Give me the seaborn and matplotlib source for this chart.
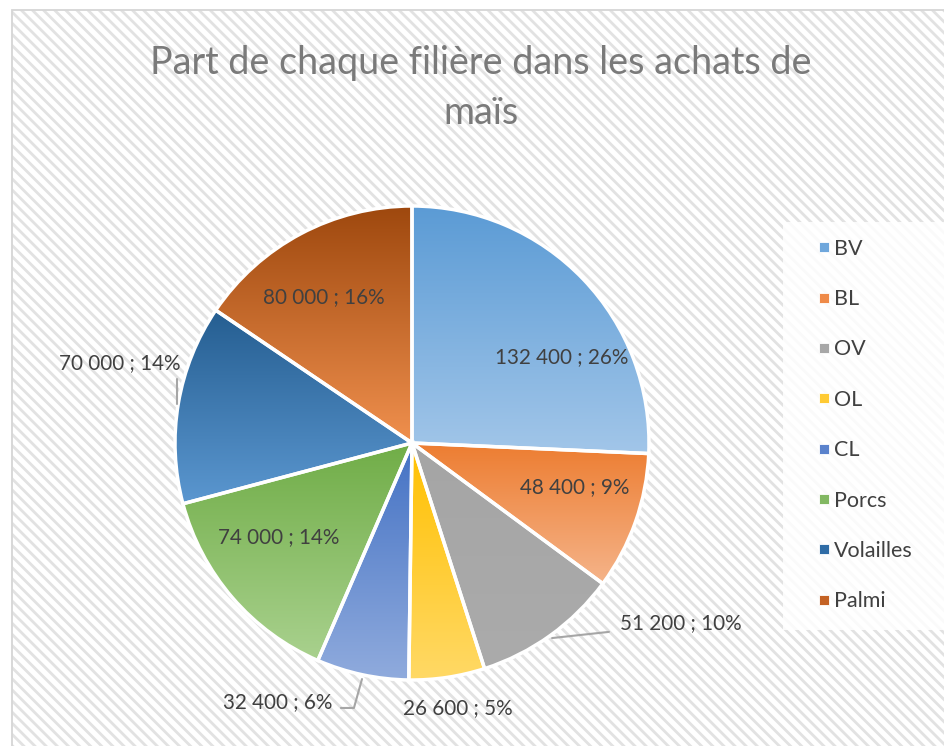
import numpy as np
import matplotlib.pyplot as plt
import seaborn as sns
from matplotlib.patches import Rectangle
from matplotlib.lines import Line2D

# data
categories = ["BV", "BL", "OV", "OL", "CL", "Porcs", "Volailles", "Palmi"]
values = [132400, 48400, 51200, 26600, 32400, 74000, 70000, 80000]

# gradient colours (top of slice -> bottom of slice)
top_colors = ["#5B9BD5", "#ED7D31", "#A5A5A5", "#FFC000", "#4472C4", "#70AD47", "#255E91", "#9E480E"]
bottom_colors = ["#A2C6E9", "#F5B48A", "#ABABAB", "#FFD966", "#90ABDD", "#A9D18E", "#5B97D0", "#F0904E"]
legend_colors = ["#6FA7DC", "#EF8A48", "#A7A7A7", "#FFCA33", "#5A82CC", "#82B862", "#2F6CA6", "#C46224"]

# label placement (in pie-radius units from the centre)
label_pos = [(0.633, 0.363), (0.688, -0.186), (1.135, -0.759), (0.192, -1.118),
             (-0.568, -1.093), (-0.563, -0.397), (-1.232, 0.338), (-0.371, 0.616)]
leaders = {
    "OV": [(0.591, -0.823), (0.831, -0.797)],
    "CL": [(-0.211, -0.996), (-0.245, -1.118), (-0.300, -1.118)],
    "Volailles": [(-0.992, 0.270), (-0.992, 0.165)],
}

sns.set_theme(style="white")
plt.rcParams["font.family"] = ["Lato", "DejaVu Sans"]
plt.rcParams["hatch.linewidth"] = 2.0

W, H = 944, 746
fig = plt.figure(figsize=(W / 100, H / 100), dpi=100)
fig.patch.set_facecolor("white")
ax = fig.add_axes([0, 0, 1, 1])

# hatched chart area + border
ax.add_patch(Rectangle((12, -20), W + 20, H - 10 + 20, facecolor="white",
                       edgecolor="#E2E2E2", hatch="\\\\\\", linewidth=0, zorder=0))
ax.add_patch(Rectangle((12, -20), W + 20, H - 10 + 20, fill=False,
                       edgecolor="#D6D6D6", linewidth=1.3, zorder=0.5))

cx, cy, R = 412, H - 443, 237
wedges, _ = ax.pie(values, colors=top_colors, startangle=90, counterclock=False,
                   center=(cx, cy), radius=R,
                   wedgeprops=dict(edgecolor="white", linewidth=2.5))

grad = np.linspace(0, 1, 256).reshape(-1, 1)
for w, c0, c1 in zip(wedges, top_colors, bottom_colors):
    ext = w.get_path().get_extents()
    cmap = sns.blend_palette([c0, c1], as_cmap=True)
    im = ax.imshow(grad, cmap=cmap, origin="upper", aspect="auto",
                   extent=(ext.x0, ext.x1, ext.y0, ext.y1), zorder=1)
    im.set_clip_path(w)
    w.set_facecolor("none")
    w.set_zorder(2)

total = sum(values)
for name, v, (dx, dy) in zip(categories, values, label_pos):
    txt = f"{v:,}".replace(",", " ") + f" ; {round(v / total * 100)}%"
    ax.text(cx + dx * R, cy + dy * R, txt, ha="center", va="center",
            fontsize=14.9, color="#404040", zorder=4)

for name, pts in leaders.items():
    xs = [cx + p[0] * R for p in pts]
    ys = [cy + p[1] * R for p in pts]
    ax.plot(xs, ys, color="#A6A6A6", linewidth=1.5, zorder=3)

# title
ax.text(481, H - 88, "Part de chaque filière dans les achats de\nmaïs",
        ha="center", va="center", fontsize=27.2, color="#7A7A7A",
        linespacing=1.45, zorder=4)

# legend
ax.add_patch(Rectangle((783, H - 630), 200, 408, facecolor="white",
                       edgecolor="none", alpha=0.85, zorder=3))
handles = [Line2D([], [], marker="s", linestyle="none", markersize=6.5,
                  markerfacecolor=c, markeredgecolor="white", markeredgewidth=0.6)
           for c in legend_colors]
leg = ax.legend(handles, categories, loc="upper left",
                bbox_to_anchor=(806 / W, 1 - 228 / H), frameon=False,
                fontsize=15.5, labelspacing=1.41, handlelength=0.7,
                handletextpad=0.12, borderpad=0, labelcolor="#404040")
leg.set_zorder(5)

ax.set_xlim(0, W)
ax.set_ylim(0, H)
ax.set_aspect("equal")
ax.axis("off")

fig.savefig("out.png", dpi=100)
